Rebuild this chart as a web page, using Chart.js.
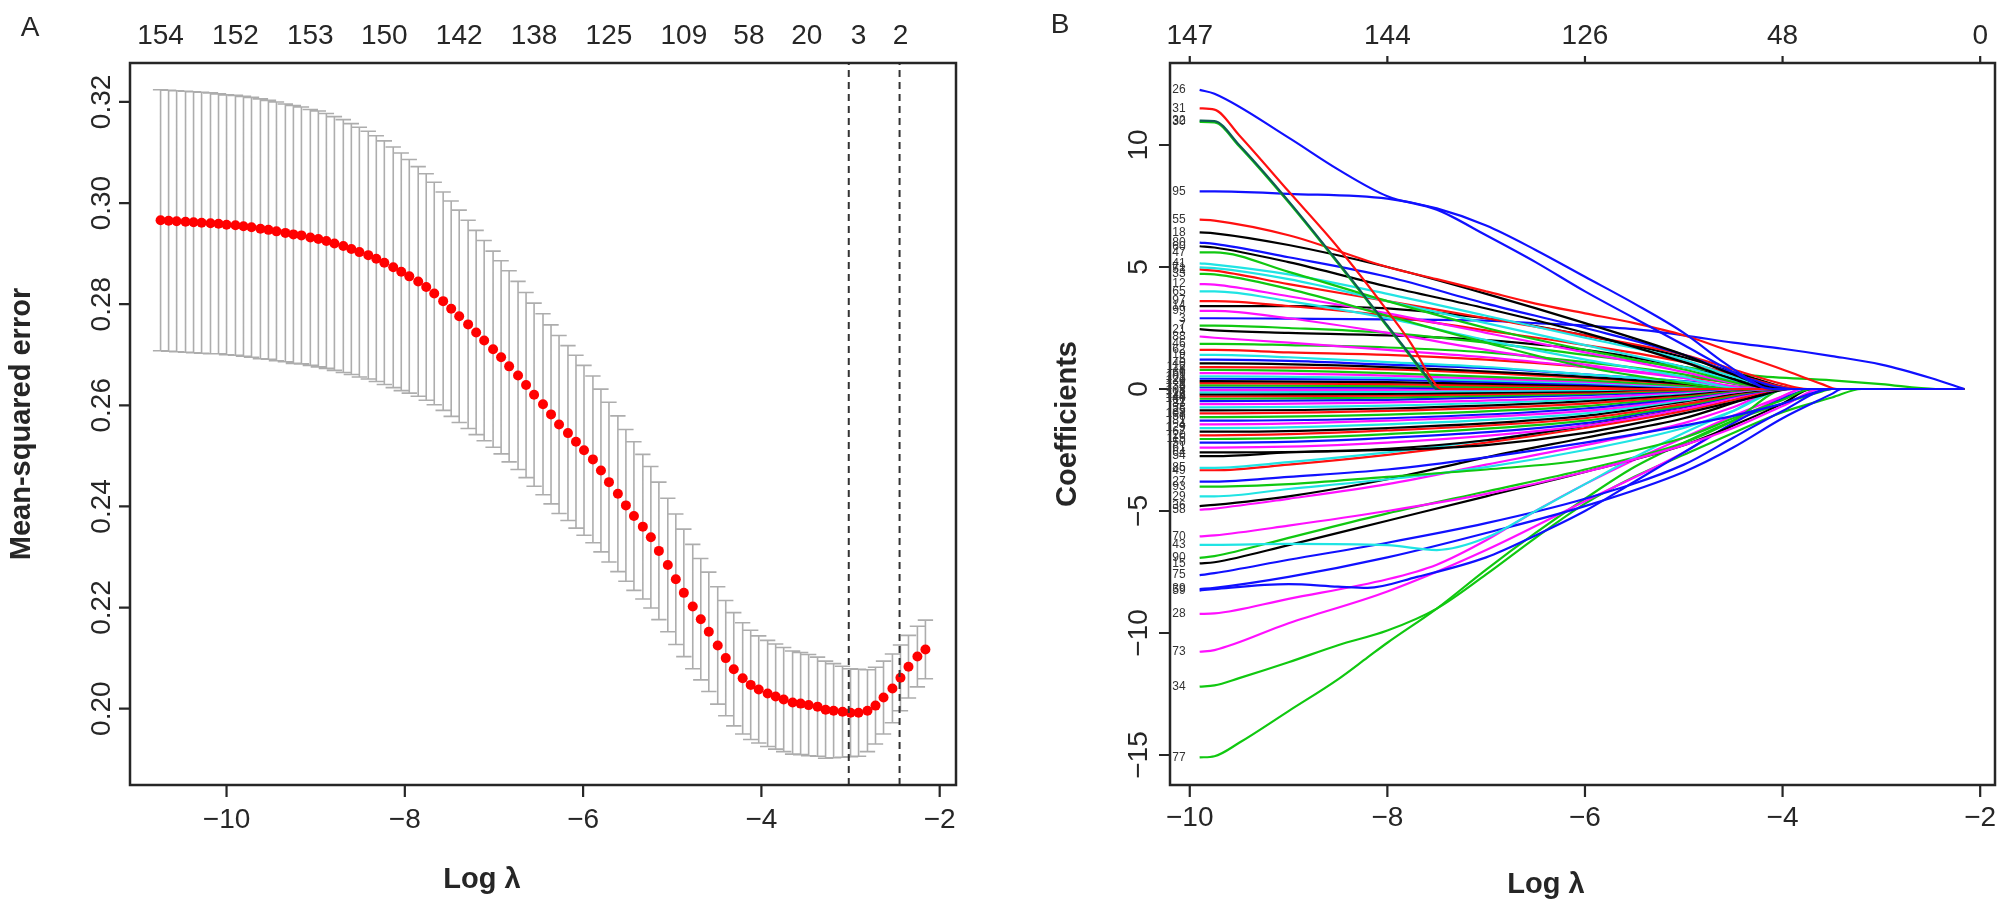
<!DOCTYPE html>
<html><head><meta charset="utf-8">
<script src="https://cdn.jsdelivr.net/npm/chart.js@4.4.1/dist/chart.umd.min.js"></script>
<style>
html,body{margin:0;padding:0;background:#fff;width:2008px;height:912px;overflow:hidden}
canvas{position:absolute;top:0}
#cA{left:0;width:1000px;height:912px}
#cB{left:1000px;width:1008px;height:912px}
</style></head><body>
<canvas id="cA" width="1000" height="912"></canvas>
<canvas id="cB" width="1008" height="912"></canvas>
<script>
// ---------- Panel A: cross-validation curve ----------
const logLambdaA = [-10.74,-10.65,-10.56,-10.46,-10.37,-10.28,-10.18,-10.09,-10.00,-9.90,
 -9.81,-9.72,-9.62,-9.53,-9.44,-9.34,-9.25,-9.16,-9.06,-8.97,
 -8.88,-8.79,-8.69,-8.60,-8.51,-8.41,-8.32,-8.23,-8.13,-8.04,
 -7.95,-7.85,-7.76,-7.67,-7.57,-7.48,-7.39,-7.29,-7.20,-7.11,
 -7.01,-6.92,-6.83,-6.73,-6.64,-6.55,-6.45,-6.36,-6.27,-6.17,
 -6.08,-5.99,-5.89,-5.80,-5.71,-5.61,-5.52,-5.43,-5.33,-5.24,
 -5.15,-5.05,-4.96,-4.87,-4.77,-4.68,-4.59,-4.49,-4.40,-4.31,
 -4.21,-4.12,-4.03,-3.93,-3.84,-3.75,-3.65,-3.56,-3.47,-3.37,
 -3.28,-3.19,-3.09,-3.00,-2.91,-2.81,-2.72,-2.63,-2.53,-2.44,
 -2.35,-2.25,-2.16];
const cvMSE = [0.2966,0.2965,0.2964,0.2963,0.2962,0.2961,0.2960,0.2959,0.2957,0.2956,
 0.2954,0.2952,0.2949,0.2947,0.2944,0.2941,0.2938,0.2936,0.2932,0.2929,
 0.2925,0.2920,0.2915,0.2909,0.2903,0.2897,0.2890,0.2882,0.2873,0.2864,
 0.2855,0.2845,0.2834,0.2821,0.2806,0.2791,0.2776,0.2760,0.2744,0.2728,
 0.2711,0.2695,0.2677,0.2659,0.2640,0.2621,0.2602,0.2582,0.2562,0.2545,
 0.2528,0.2511,0.2493,0.2471,0.2448,0.2425,0.2402,0.2381,0.2360,0.2339,
 0.2312,0.2284,0.2256,0.2229,0.2202,0.2177,0.2152,0.2125,0.2100,0.2078,
 0.2060,0.2047,0.2038,0.2030,0.2024,0.2018,0.2012,0.2010,0.2007,0.2004,
 0.1998,0.1996,0.1994,0.1992,0.1992,0.1996,0.2006,0.2022,0.2040,0.2061,
 0.2083,0.2103,0.2117];
const cvSD = [0.0258,0.0258,0.0258,0.0258,0.0258,0.0258,0.0258,0.0257,0.0257,0.0257,
 0.0257,0.0257,0.0257,0.0256,0.0256,0.0255,0.0255,0.0254,0.0253,0.0253,
 0.0252,0.0251,0.0250,0.0248,0.0247,0.0245,0.0243,0.0241,0.0238,0.0235,
 0.0231,0.0227,0.0224,0.0220,0.0216,0.0213,0.0210,0.0206,0.0202,0.0198,
 0.0194,0.0191,0.0189,0.0186,0.0183,0.0181,0.0179,0.0177,0.0176,0.0173,
 0.0171,0.0168,0.0165,0.0161,0.0158,0.0154,0.0150,0.0147,0.0143,0.0140,
 0.0136,0.0132,0.0129,0.0126,0.0123,0.0120,0.0118,0.0116,0.0114,0.0112,
 0.0110,0.0108,0.0106,0.0105,0.0104,0.0103,0.0102,0.0101,0.0100,0.0098,
 0.0096,0.0093,0.0090,0.0087,0.0086,0.0081,0.0076,0.0072,0.0068,0.0065,
 0.0062,0.0060,0.0058];
const topPosA = [-10.74,-9.90,-9.06,-8.23,-7.39,-6.55,-5.71,-4.87,-4.14,-3.49,-2.91,-2.44];
const topLabelsA = ['154','152','153','150','142','138','125','109','58','20','3','2'];
const xTicksA = [-10,-8,-6,-4,-2];
const yTicksA = [0.20,0.22,0.24,0.26,0.28,0.30,0.32];
const lambdaMinLog = -3.02;
const lambda1seLog = -2.45;
const xRangeA = [-11.083,-1.817];
const yRangeA = [0.1849,0.3277];
const capHalfWidth = 0.086;

// ---------- Panel B: coefficient paths ----------
const xTicksB = [-10,-8,-6,-4,-2];
const topLabelsB = ['147','144','126','48','0'];
const yTicksB = [-15,-10,-5,0,5,10];
const xRangeB = [-10.2,-1.85];
const yRangeB = [-16.23,13.36];
const coefIds = ['26','31','32','30','95','55','18','80','60','47','41','71','52','33','12','65','97','14','99','3',
 '7','21','88','46','62','19','5','40','112','8','66','101','23','120','2','133','9','108','17','126',
 '44','140','11','87','38','25','103','56','81','4','129','67','20','115','50','61','54','64','85','49',
 '27','93','29','36','58','70','43','90','15','75','59','39','28','73','34','77'];
const coefColors = ['blue','red','teal','green','blue','red','black','blue','black','green','cyan','cyan','red','green','magenta','cyan','red','black','magenta','blue',
 'green','black','magenta','green','red','cyan','blue','black','red','green','magenta','cyan','blue','black','red','green','blue','magenta','cyan','black',
 'red','green','blue','magenta','cyan','black','red','green','blue','magenta','cyan','black','red','green','blue','magenta','black','black','cyan','red',
 'blue','green','cyan','black','magenta','magenta','cyan','green','black','blue','blue','blue','magenta','magenta','green','green'];
const coefPaths = [
 [[-9.9,12.26],[-9.75,12.1],[-9,10.3],[-8.5,9.0],[-8,7.9],[-7.5,7.35],[-7,6.3],[-6.5,5.2],[-6,4.0],[-5.5,2.9],[-5,1.8],[-4.5,0.7],[-4.1,0],[-2.16,0]],
 [[-9.9,11.5],[-9.75,11.45],[-9.5,10.4],[-9,8.1],[-8.5,5.8],[-8,3.2],[-7.75,1.8],[-7.55,0.4],[-7.45,0],[-2.16,0]],
 [[-9.9,11.0],[-9.75,10.98],[-9.5,10.0],[-9,7.7],[-8.5,5.2],[-8,2.6],[-7.75,1.3],[-7.6,0.5],[-7.5,0],[-2.16,0]],
 [[-9.9,10.95],[-9.75,10.93],[-9.5,9.95],[-9,7.65],[-8.5,5.15],[-8,2.55],[-7.75,1.25],[-7.6,0.45],[-7.5,0],[-2.16,0]],
 [[-9.9,8.1],[-9.75,8.1],[-9,8.0],[-8,7.8],[-7.5,7.4],[-7,6.7],[-6.5,5.7],[-6,4.6],[-5.5,3.5],[-5,2.3],[-4.6,1.1],[-4.3,0.3],[-4.15,0],[-2.16,0]],
 [[-9.9,6.94],[-9.75,6.9],[-9,6.3],[-8,5.0],[-7.5,4.5],[-7,4.0],[-6.5,3.5],[-6,3.1],[-5.5,2.7],[-5,2.2],[-4.5,1.5],[-4,0.8],[-3.6,0.2],[-3.45,0],[-2.16,0]],
 [[-9.9,6.42],[-9.75,6.38],[-9,5.9],[-8,5.0],[-7,3.9],[-6,2.7],[-5,1.4],[-4.5,0.6],[-4.0,0],[-2.16,0]],
 [[-9.9,6.0],[-9.75,5.95],[-9,5.4],[-8,4.6],[-7,3.5],[-6,2.5],[-5,1.4],[-4.4,0.5],[-3.9,0],[-2.16,0]],
 [[-9.9,5.85],[-9.75,5.8],[-9,5.2],[-8,4.2],[-7,3.3],[-6,2.3],[-5,1.1],[-4.5,0.4],[-4.1,0],[-2.16,0]],
 [[-9.9,5.6],[-9.75,5.6],[-9,4.8],[-8,3.6],[-7,2.5],[-6,1.6],[-5,0.8],[-4.4,0.2],[-4.0,0],[-2.16,0]],
 [[-9.9,5.15],[-9.75,5.1],[-9,4.7],[-8,3.9],[-7,3.0],[-6,2.1],[-5,1.2],[-4.5,0.5],[-3.95,0],[-2.16,0]],
 [[-9.9,4.98],[-9.75,4.95],[-9,4.5],[-8,3.6],[-7,2.7],[-6,1.8],[-5,0.9],[-4.4,0.25],[-4.05,0],[-2.16,0]],
 [[-9.9,4.9],[-9.75,4.85],[-9,4.3],[-8,3.6],[-7,2.9],[-6,2.2],[-5,1.4],[-4.5,0.8],[-4.0,0.2],[-3.75,0],[-2.16,0]],
 [[-9.9,4.72],[-9.75,4.7],[-9,4.1],[-8,3.0],[-7,1.9],[-6,0.9],[-5,0.25],[-4.5,0],[-2.16,0]],
 [[-9.9,4.3],[-9.75,4.28],[-9,3.8],[-8,3.1],[-7,2.3],[-6,1.5],[-5,0.7],[-4.5,0.25],[-4.1,0],[-2.16,0]],
 [[-9.9,4.0],[-9.75,4.0],[-9,3.6],[-8,2.9],[-7,2.0],[-6,1.2],[-5,0.5],[-4.4,0],[-2.16,0]],
 [[-9.9,3.6],[-9.75,3.6],[-9,3.4],[-8,3.0],[-7,2.4],[-6,1.8],[-5,1.1],[-4.5,0.6],[-3.8,0],[-2.16,0]],
 [[-9.9,3.4],[-9.75,3.4],[-9,3.4],[-8,3.3],[-7,2.9],[-6,2.2],[-5,1.3],[-4.3,0.45],[-3.85,0],[-2.16,0]],
 [[-9.9,3.2],[-9.75,3.2],[-9,2.9],[-8,2.3],[-7,1.6],[-6,1.0],[-5,0.45],[-4.4,0],[-2.16,0]],
 [[-9.9,2.9],[-9.75,2.9],[-9,2.88],[-8,2.85],[-7,2.8],[-6.5,2.7],[-6,2.6],[-5.5,2.45],[-5,2.2],[-4.5,1.9],[-4,1.65],[-3.5,1.35],[-3,1.0],[-2.5,0.45],[-2.16,0]],
 [[-9.9,2.6],[-9.75,2.6],[-9,2.5],[-8,2.3],[-7,1.9],[-6,1.4],[-5,0.9],[-4.3,0.55],[-3.5,0.35],[-3,0.2],[-2.45,0],[-2.16,0]],
 [[-9.9,2.45],[-9.75,2.4],[-9,2.3],[-8,2.2],[-7,2.0],[-6,1.6],[-5,0.9],[-4.3,0.25],[-3.9,0],[-2.16,0]],
 [[-9.9,2.15],[-9.75,2.1],[-9,1.9],[-8,1.6],[-7,1.3],[-6,0.9],[-5,0.45],[-4.2,0],[-2.16,0]],
 [[-9.9,1.85],[-9.75,1.85],[-9,1.8],[-8,1.7],[-7,1.5],[-6,1.1],[-5,0.6],[-4.4,0.15],[-4.05,0],[-2.16,0]],
 [[-9.9,1.6],[-9.75,1.6],[-9,1.5],[-8,1.4],[-7,1.2],[-6,0.9],[-5,0.5],[-4.5,0.25],[-3.9,0],[-2.16,0]],
 [[-9.9,1.4],[-9.75,1.4],[-9,1.3],[-8,1.1],[-7,0.9],[-6,0.6],[-5,0.3],[-4.3,0],[-2.16,0]],
 [[-9.9,1.2],[-9.75,1.2],[-9,1.15],[-8,1.0],[-7,0.85],[-6,0.6],[-5,0.32],[-4.1,0],[-2.16,0]],
 [[-9.9,1.05],[-9.75,1.05],[-8,0.9],[-6,0.5],[-5,0.22],[-4.4,0],[-2.16,0]],
 [[-9.9,0.9],[-9.75,0.9],[-8,0.8],[-6,0.45],[-5,0.2],[-4.3,0],[-2.16,0]],
 [[-9.9,0.78],[-9.75,0.78],[-8,0.65],[-6,0.35],[-5,0.14],[-4.5,0],[-2.16,0]],
 [[-9.9,0.65],[-9.75,0.65],[-8,0.55],[-6,0.3],[-5,0.12],[-4.5,0],[-2.16,0]],
 [[-9.9,0.52],[-9.75,0.52],[-8,0.45],[-6,0.25],[-5,0.09],[-4.6,0],[-2.16,0]],
 [[-9.9,0.42],[-9.75,0.42],[-8,0.38],[-6,0.2],[-5,0.06],[-4.7,0],[-2.16,0]],
 [[-9.9,0.32],[-9.75,0.32],[-8,0.28],[-6,0.15],[-5,0.03],[-4.8,0],[-2.16,0]],
 [[-9.9,0.24],[-9.75,0.24],[-8,0.2],[-6,0.1],[-5,0],[-2.16,0]],
 [[-9.9,0.15],[-9.75,0.15],[-8,0.12],[-6,0.05],[-5.2,0],[-2.16,0]],
 [[-9.9,0.06],[-9.75,0.06],[-8,0.05],[-6.2,0],[-2.16,0]],
 [[-9.9,-0.05],[-9.75,-0.05],[-8,-0.04],[-6.2,0],[-2.16,0]],
 [[-9.9,-0.14],[-9.75,-0.14],[-8,-0.12],[-6,-0.05],[-5.2,0],[-2.16,0]],
 [[-9.9,-0.22],[-9.75,-0.22],[-8,-0.2],[-6,-0.1],[-5,0],[-2.16,0]],
 [[-9.9,-0.3],[-9.75,-0.3],[-8,-0.27],[-6,-0.15],[-5,-0.03],[-4.8,0],[-2.16,0]],
 [[-9.9,-0.4],[-9.75,-0.4],[-8,-0.35],[-6,-0.2],[-5,-0.06],[-4.6,0],[-2.16,0]],
 [[-9.9,-0.5],[-9.75,-0.5],[-8,-0.45],[-6,-0.25],[-5,-0.09],[-4.5,0],[-2.16,0]],
 [[-9.9,-0.62],[-9.75,-0.62],[-8,-0.55],[-6,-0.35],[-5,-0.13],[-4.4,0],[-2.16,0]],
 [[-9.9,-0.75],[-9.75,-0.75],[-8,-0.68],[-6,-0.42],[-5,-0.17],[-4.4,0],[-2.16,0]],
 [[-9.9,-0.88],[-9.75,-0.88],[-8,-0.8],[-6,-0.5],[-5,-0.22],[-4.3,0],[-2.16,0]],
 [[-9.9,-1.0],[-9.75,-1.0],[-8,-0.9],[-6,-0.6],[-5,-0.27],[-4.3,0],[-2.16,0]],
 [[-9.9,-1.15],[-9.75,-1.15],[-8,-1.05],[-6,-0.7],[-5,-0.32],[-4.2,0],[-2.16,0]],
 [[-9.9,-1.3],[-9.75,-1.3],[-8,-1.2],[-6,-0.8],[-5,-0.37],[-4.2,0],[-2.16,0]],
 [[-9.9,-1.45],[-9.75,-1.45],[-8,-1.3],[-6,-0.9],[-5,-0.42],[-4.1,0],[-2.16,0]],
 [[-9.9,-1.6],[-9.75,-1.6],[-8,-1.45],[-6,-1.0],[-5,-0.47],[-4.1,0],[-2.16,0]],
 [[-9.9,-1.75],[-9.75,-1.75],[-8,-1.6],[-6,-1.1],[-5,-0.52],[-4.0,0],[-2.16,0]],
 [[-9.9,-1.9],[-9.75,-1.9],[-8,-1.7],[-6,-1.2],[-5,-0.62],[-4.0,0],[-2.16,0]],
 [[-9.9,-2.05],[-9.75,-2.05],[-8,-1.85],[-6,-1.3],[-5,-0.68],[-3.95,0],[-2.16,0]],
 [[-9.9,-2.2],[-9.75,-2.2],[-8,-2.0],[-6,-1.4],[-5,-0.72],[-3.9,0],[-2.16,0]],
 [[-9.9,-2.4],[-9.75,-2.4],[-8,-2.2],[-6,-1.5],[-5,-0.82],[-3.9,0],[-2.16,0]],
 [[-9.9,-2.75],[-9.75,-2.75],[-9,-2.6],[-8,-2.45],[-7,-2.1],[-6,-1.5],[-5,-0.8],[-4.4,-0.25],[-4.0,0],[-2.16,0]],
 [[-9.9,-2.6],[-9.75,-2.6],[-8,-2.5],[-7,-2.3],[-6,-1.8],[-5,-1.0],[-4.3,-0.35],[-3.9,0],[-2.16,0]],
 [[-9.9,-3.23],[-9.75,-3.23],[-9,-3.0],[-8,-2.6],[-7,-2.1],[-6,-1.5],[-5,-0.8],[-4.2,0],[-2.16,0]],
 [[-9.9,-3.33],[-9.75,-3.33],[-9,-3.1],[-8,-2.7],[-7,-2.2],[-6,-1.6],[-5,-0.9],[-4.5,-0.45],[-3.95,0],[-2.16,0]],
 [[-9.9,-3.8],[-9.75,-3.8],[-9,-3.6],[-8,-3.3],[-7,-2.8],[-6,-2.2],[-5,-1.5],[-4.5,-1.1],[-4,-0.6],[-3.5,0],[-2.16,0]],
 [[-9.9,-4.0],[-9.75,-4.0],[-9,-3.9],[-8,-3.6],[-7,-3.3],[-6,-2.9],[-5,-2.0],[-4.5,-1.2],[-4,-0.45],[-3.7,0],[-2.16,0]],
 [[-9.9,-4.4],[-9.75,-4.4],[-9,-4.1],[-8,-3.7],[-7,-3.2],[-6,-2.5],[-5,-1.6],[-4.5,-0.9],[-3.95,0],[-2.16,0]],
 [[-9.9,-4.8],[-9.75,-4.75],[-9,-4.4],[-8,-3.7],[-7,-2.8],[-6,-2.0],[-5,-1.2],[-4.4,-0.45],[-4.0,0],[-2.16,0]],
 [[-9.9,-4.95],[-9.75,-4.9],[-9,-4.5],[-8,-3.9],[-7,-3.1],[-6,-2.3],[-5,-1.4],[-4.5,-0.75],[-4.0,0],[-2.16,0]],
 [[-9.9,-6.04],[-9.75,-6.0],[-9,-5.6],[-8,-5.0],[-7,-4.3],[-6,-3.4],[-5,-2.3],[-4.5,-1.6],[-4,-0.7],[-3.6,0],[-2.16,0]],
 [[-9.9,-6.39],[-9.75,-6.39],[-9,-6.35],[-8,-6.4],[-7.5,-6.6],[-7,-6.1],[-6.5,-5.0],[-6,-3.9],[-5.5,-2.8],[-5,-1.8],[-4.5,-0.9],[-4.0,0],[-2.16,0]],
 [[-9.9,-6.92],[-9.75,-6.85],[-9,-6.1],[-8,-5.1],[-7,-4.2],[-6,-3.3],[-5,-2.2],[-4.5,-1.3],[-3.95,0],[-2.16,0]],
 [[-9.9,-7.15],[-9.75,-7.1],[-9,-6.4],[-8,-5.4],[-7,-4.4],[-6,-3.4],[-5,-2.3],[-4.5,-1.5],[-4,-0.6],[-3.7,0],[-2.16,0]],
 [[-9.9,-7.63],[-9.75,-7.55],[-9,-7.0],[-8,-6.3],[-7,-5.5],[-6,-4.5],[-5,-3.1],[-4.5,-2.0],[-4,-0.9],[-3.5,0],[-2.16,0]],
 [[-9.9,-8.26],[-9.75,-8.2],[-9,-8.0],[-8.5,-8.1],[-8.2,-8.15],[-7.7,-7.7],[-7,-6.9],[-6.5,-6.0],[-6,-5.0],[-5.5,-3.8],[-5,-2.6],[-4.5,-1.4],[-4,-0.4],[-3.7,0],[-2.16,0]],
 [[-9.9,-8.2],[-9.75,-8.15],[-9,-7.7],[-8,-6.9],[-7,-5.9],[-6,-4.8],[-5,-3.4],[-4.5,-2.4],[-4,-1.2],[-3.5,-0.2],[-3.4,0],[-2.16,0]],
 [[-9.9,-9.22],[-9.75,-9.2],[-9,-8.6],[-8,-7.8],[-7.5,-7.2],[-7,-6.2],[-6.5,-5.0],[-6,-3.9],[-5.5,-2.9],[-5,-2.0],[-4.5,-1.1],[-4,-0.3],[-3.8,0],[-2.16,0]],
 [[-9.9,-10.77],[-9.75,-10.7],[-9,-9.6],[-8,-8.3],[-7,-6.6],[-6,-4.6],[-5,-2.6],[-4.5,-1.4],[-4,-0.3],[-3.8,0],[-2.16,0]],
 [[-9.9,-12.2],[-9.75,-12.15],[-9.5,-11.85],[-9,-11.2],[-8.5,-10.5],[-8,-9.9],[-7.5,-9.0],[-7,-7.6],[-6.5,-6.1],[-6,-4.7],[-5.5,-3.6],[-5,-2.7],[-4.5,-1.8],[-4,-0.95],[-3.5,-0.35],[-3.2,0],[-2.16,0]],
 [[-9.9,-15.1],[-9.75,-15.05],[-9.5,-14.5],[-9,-13.2],[-8.5,-11.9],[-8.2,-11.0],[-8,-10.4],[-7.5,-9.0],[-7,-7.4],[-6.5,-5.9],[-6,-4.5],[-5.5,-3.2],[-5,-2.2],[-4.5,-1.3],[-4,-0.6],[-3.6,-0.1],[-3.5,0],[-2.16,0]]
];
const paletteB = {black:'#000000',red:'#FF1010',green:'#10C810',blue:'#1010FF',cyan:'#20E4E4',magenta:'#FF10FF',teal:'#0E5E52'};

// ---------- drawing helpers ----------
const FONT = '"Liberation Sans", Arial, Helvetica, sans-serif';
const INK = '#262626';
function fmtNum(v){ return v < 0 ? '\u2212' + Math.abs(v) : String(v); }
function rotText(ctx, txt, x, y){ ctx.save(); ctx.translate(x, y); ctx.rotate(-Math.PI/2); ctx.fillText(txt, 0, 0); ctx.restore(); }

const decorA = {
  id: 'decorA',
  beforeDatasetsDraw(chart){
    const {ctx, scales:{x, y}} = chart;
    ctx.save();
    ctx.strokeStyle = '#ADADAD'; ctx.lineWidth = 1.6;
    ctx.beginPath();
    for (let i = 0; i < logLambdaA.length; i++){
      const px = x.getPixelForValue(logLambdaA[i]);
      const hw = x.getPixelForValue(logLambdaA[i] + capHalfWidth) - px;
      const yt = y.getPixelForValue(cvMSE[i] + cvSD[i]);
      const yb = y.getPixelForValue(cvMSE[i] - cvSD[i]);
      ctx.moveTo(px, yt); ctx.lineTo(px, yb);
      ctx.moveTo(px - hw, yt); ctx.lineTo(px + hw, yt);
      ctx.moveTo(px - hw, yb); ctx.lineTo(px + hw, yb);
    }
    ctx.stroke();
    ctx.restore();
  },
  afterDraw(chart){
    const {ctx, chartArea:a, scales:{x, y}} = chart;
    ctx.save();
    ctx.strokeStyle = INK; ctx.lineWidth = 2.5;
    ctx.strokeRect(a.left, a.top, a.right - a.left, a.bottom - a.top);
    ctx.fillStyle = INK; ctx.lineWidth = 2.2;
    ctx.font = '28px ' + FONT; ctx.textAlign = 'center'; ctx.textBaseline = 'middle';
    ctx.beginPath();
    xTicksA.forEach(v => { const px = x.getPixelForValue(v); ctx.moveTo(px, a.bottom); ctx.lineTo(px, a.bottom + 12); ctx.fillText(fmtNum(v), px, a.bottom + 35); });
    yTicksA.forEach(v => { const py = y.getPixelForValue(v); ctx.moveTo(a.left, py); ctx.lineTo(a.left - 11, py); rotText(ctx, v.toFixed(2), a.left - 28, py); });
    ctx.stroke();
    topPosA.forEach((v, i) => ctx.fillText(topLabelsA[i], x.getPixelForValue(v), a.top - 27));
    ctx.font = 'bold 29px ' + FONT;
    ctx.fillText('Log \u03bb', 482, 880);
    rotText(ctx, 'Mean-squared error', 22, (a.top + a.bottom) / 2);
    ctx.font = '28px ' + FONT;
    ctx.fillText('A', 30, 28);
    ctx.restore();
  }
};

const decorB = {
  id: 'decorB',
  afterDraw(chart){
    const {ctx, chartArea:a, scales:{x, y}} = chart;
    ctx.save();
    ctx.strokeStyle = INK; ctx.lineWidth = 2.5;
    ctx.strokeRect(a.left, a.top, a.right - a.left, a.bottom - a.top);
    ctx.fillStyle = INK; ctx.lineWidth = 2.2;
    ctx.font = '28px ' + FONT; ctx.textAlign = 'center'; ctx.textBaseline = 'middle';
    ctx.beginPath();
    xTicksB.forEach((v, i) => {
      const px = x.getPixelForValue(v);
      ctx.moveTo(px, a.bottom); ctx.lineTo(px, a.bottom + 12); ctx.fillText(fmtNum(v), px, a.bottom + 33);
      ctx.moveTo(px, a.top); ctx.lineTo(px, a.top - 7); ctx.fillText(topLabelsB[i], px, a.top - 27);
    });
    yTicksB.forEach(v => { const py = y.getPixelForValue(v); ctx.moveTo(a.left, py); ctx.lineTo(a.left - 11, py); rotText(ctx, fmtNum(v), a.left - 31, py); });
    ctx.stroke();
    ctx.font = 'bold 29px ' + FONT;
    ctx.fillText('Log \u03bb', 546, 885);
    rotText(ctx, 'Coefficients', 68, (a.top + a.bottom) / 2);
    ctx.font = '28px ' + FONT;
    ctx.fillText('B', 60, 25);
    // variable labels at the start of each path
    ctx.font = '12px ' + FONT; ctx.textAlign = 'right'; ctx.fillStyle = '#333';
    coefPaths.forEach((p, i) => {
      ctx.fillText(coefIds[i], x.getPixelForValue(p[0][0]) - 14, y.getPixelForValue(p[0][1]));
    });
    ctx.restore();
  }
};

const baseOpts = (xr, yr, pad) => ({
  responsive: false, animation: false, devicePixelRatio: 1, events: [],
  layout: { padding: pad },
  plugins: { legend: { display: false }, tooltip: { enabled: false } },
  scales: {
    x: { type: 'linear', min: xr[0], max: xr[1], display: false },
    y: { type: 'linear', min: yr[0], max: yr[1], display: false }
  }
});

// Panel A chart
new Chart(document.getElementById('cA'), {
  type: 'scatter',
  data: { datasets: [
    { type: 'line', order: 0, data: [{x: lambdaMinLog, y: yRangeA[0]}, {x: lambdaMinLog, y: yRangeA[1]}],
      borderColor: '#333', borderWidth: 2, borderDash: [7, 5], pointRadius: 0, fill: false },
    { type: 'line', order: 0, data: [{x: lambda1seLog, y: yRangeA[0]}, {x: lambda1seLog, y: yRangeA[1]}],
      borderColor: '#333', borderWidth: 2, borderDash: [7, 5], pointRadius: 0, fill: false },
    { type: 'scatter', order: 1, data: logLambdaA.map((v, i) => ({x: v, y: cvMSE[i]})),
      backgroundColor: '#FF0000', borderWidth: 0, pointRadius: 5 }
  ]},
  options: baseOpts(xRangeA, yRangeA, {left: 130, right: 44, top: 63, bottom: 127}),
  plugins: [decorA]
});

// Panel B chart
new Chart(document.getElementById('cB'), {
  type: 'line',
  data: { datasets: coefPaths.map((p, i) => ({
    data: p.map(q => ({x: q[0], y: q[1]})),
    borderColor: paletteB[coefColors[i]], borderWidth: 2.2, pointRadius: 0,
    cubicInterpolationMode: 'monotone', fill: false
  }))},
  options: baseOpts(xRangeB, yRangeB, {left: 170, right: 13, top: 63, bottom: 127}),
  plugins: [decorB]
});
</script>
</body></html>
